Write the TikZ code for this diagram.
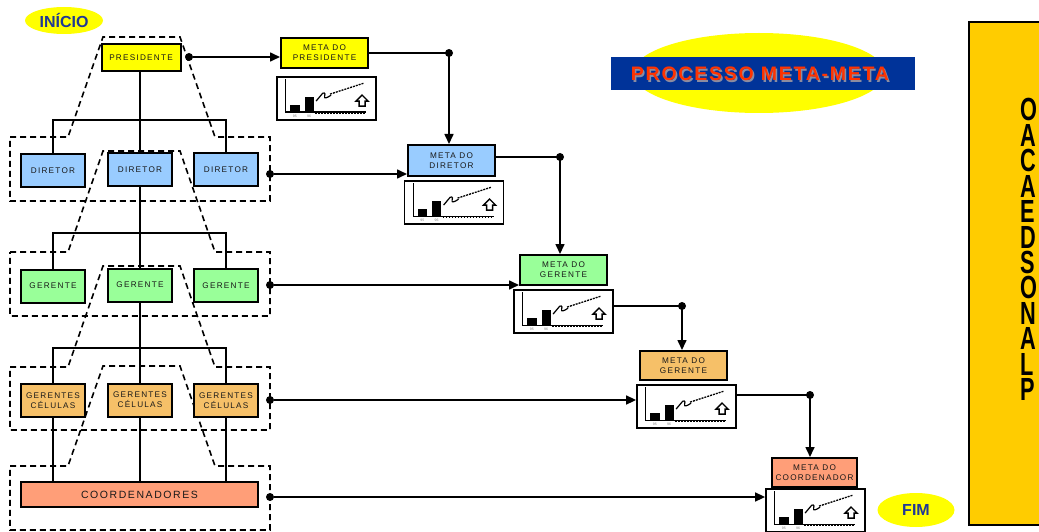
\documentclass[tikz,border=0pt]{standalone}
\usepackage{fontspec}
\setmainfont{Liberation Sans}
\newfontfamily\spacedfont[LetterSpace=15]{Liberation Sans}
\newfontfamily\titlefont[LetterSpace=9]{Liberation Sans}
\usetikzlibrary{shapes.geometric,arrows.meta}

\definecolor{boxyellow}{RGB}{255,255,0}
\definecolor{dirblue}{RGB}{153,204,255}
\definecolor{gergreen}{RGB}{153,255,153}
\definecolor{celorange}{RGB}{246,192,104}
\definecolor{coordsalmon}{RGB}{255,158,120}
\definecolor{sidegold}{RGB}{255,204,0}
\definecolor{titleblue}{RGB}{0,51,153}
\definecolor{titlered}{RGB}{255,51,0}
\definecolor{titleshade}{RGB}{140,140,160}
\definecolor{labelblue}{RGB}{31,56,150}
\definecolor{inktext}{RGB}{25,25,25}

\tikzset{
  orgbox/.style={draw=black, line width=2pt, inner sep=0pt, minimum width=64pt,
    minimum height=33pt, align=center, text=inktext,
    font=\spacedfont\fontsize{8.2}{10}\selectfont},
  metabox/.style={draw=black, line width=2pt, inner sep=0pt, minimum width=87pt,
    minimum height=30pt, align=center, text=inktext,
    font=\spacedfont\fontsize{8.2}{10}\selectfont},
  chartbox/.style={draw=black, line width=1.8pt, fill=white, inner sep=0pt,
    minimum width=99pt, minimum height=43pt},
  groupline/.style={line width=1.6pt, dash pattern=on 6pt off 4pt},
  orgline/.style={line width=1.6pt},
  feed/.style={line width=1.6pt, -{Triangle[length=10pt,width=9pt]}},
  joint/.style={circle, fill=black, inner sep=0pt, minimum size=8pt},
  oval/.style={ellipse, fill=boxyellow, inner sep=0pt},
}

% small goal chart drawn inside a chart frame
\newcommand\minichart[1]{%
  \begin{scope}[shift={(#1.north west)}]
    \draw[line width=1.2pt] (9.5,3) -- (9.5,36) -- (90,36);
    \draw[line width=2pt, dash pattern=on 1.5pt off 1.5pt] (39,37.2) -- (90,37.2);
    \fill (14,28.5) rectangle (23.5,36);
    \fill (28.5,21) rectangle (37.5,36);
    \node[font=\fontsize{3.5}{4}\selectfont, text=gray, inner sep=0pt] at (18.7,40) {95};
    \node[font=\fontsize{3.5}{4}\selectfont, text=gray, inner sep=0pt] at (33,40) {96};
    \draw[line width=1.2pt] (40,25) -- (45,19) .. controls (47,15.5) and (50,16.5) .. (48.5,20)
      .. controls (47.5,23) and (51,22) .. (55,19);
    \draw[line width=1.3pt, dash pattern=on 2pt off 1pt] (54,18) -- (88,7);
    \draw[line width=1.4pt, fill=white, line join=miter]
      (86,19) -- (92,25) -- (89,25) -- (89,30) -- (83,30) -- (83,25) -- (80,25) -- cycle;
  \end{scope}}

\begin{document}
\begin{tikzpicture}[x=1pt, y=-1pt]
  \clip (0,0) rectangle (1039,532);
  \fill[white] (0,0) rectangle (1039,532);

  % ---------- dashed groupings ----------
  \draw[groupline] (10,137) -- (68,137) -- (103,37) -- (180,37) -- (215,137) -- (270,137)
    -- (270,201) -- (10,201) -- cycle;
  \draw[groupline] (10,252) -- (68,252) -- (103,151) -- (180,151) -- (215,252) -- (270,252)
    -- (270,316) -- (10,316) -- cycle;
  \draw[groupline] (10,367) -- (68,367) -- (103,266) -- (180,266) -- (215,367) -- (270,367)
    -- (270,430) -- (10,430) -- cycle;
  \draw[groupline] (10,466) -- (68,466) -- (103,366) -- (180,366) -- (215,466) -- (270,466)
    -- (270,530) -- (10,530) -- cycle;

  % ---------- organisation ----------
  \node[orgbox, fill=boxyellow, minimum width=79pt, minimum height=27pt] (pres) at (141,57.5) {PRESIDENTE};

  \node[orgbox, fill=dirblue] (dirL) at (53,170.5) {DIRETOR};
  \node[orgbox, fill=dirblue] (dirM) at (140,169.5) {DIRETOR};
  \node[orgbox, fill=dirblue] (dirR) at (226,169.5) {DIRETOR};

  \node[orgbox, fill=gergreen] (gerL) at (53,286) {GERENTE};
  \node[orgbox, fill=gergreen] (gerM) at (140,285) {GERENTE};
  \node[orgbox, fill=gergreen] (gerR) at (226,285.5) {GERENTE};

  \node[orgbox, fill=celorange] (celL) at (53,400.5) {GERENTES\\CÉLULAS};
  \node[orgbox, fill=celorange] (celM) at (140,400) {GERENTES\\CÉLULAS};
  \node[orgbox, fill=celorange] (celR) at (226,400.5) {GERENTES\\CÉLULAS};

  \node[orgbox, fill=coordsalmon, minimum width=237pt, minimum height=25pt,
        font=\spacedfont\fontsize{10.5}{12}\selectfont] (coord) at (139.5,494.5) {COORDENADORES};

  \draw[orgline] (pres.south -| dirM) -- (dirM.north);
  \draw[orgline] (dirL.north) -- (dirL.north |- 0,120) -- (dirR.north |- 0,120) -- (dirR.north);
  \draw[orgline] (dirM.south) -- (gerM.north);
  \draw[orgline] (gerL.north) -- (gerL.north |- 0,233) -- (gerR.north |- 0,233) -- (gerR.north);
  \draw[orgline] (gerM.south) -- (celM.north);
  \draw[orgline] (celL.north) -- (celL.north |- 0,348) -- (celR.north |- 0,348) -- (celR.north);
  \draw[orgline] (celM.south) -- (celM.south |- coord.north);
  \draw[orgline] (celL.south) -- (celL.south |- coord.north);
  \draw[orgline] (celR.south) -- (celR.south |- coord.north);

  % ---------- goal cascade ----------
  \node[metabox, fill=boxyellow] (m1) at (324.5,53) {META DO\\PRESIDENTE};
  \node[chartbox] (c1) at (326.5,98.5) {};
  \minichart{c1}

  \node[metabox, fill=dirblue, minimum height=31pt] (m2) at (451.5,160.5) {META DO\\DIRETOR};
  \node[chartbox] (c2) at (454,202.5) {};
  \minichart{c2}

  \node[metabox, fill=gergreen] (m3) at (563.5,270) {META DO\\GERENTE};
  \node[chartbox] (c3) at (563.5,311.5) {};
  \minichart{c3}

  \node[metabox, fill=celorange, minimum height=29pt] (m4) at (683.5,365.5) {META DO\\GERENTE};
  \node[chartbox] (c4) at (686.5,406.5) {};
  \minichart{c4}

  \node[metabox, fill=coordsalmon, minimum width=85pt, minimum height=29pt] (m5) at (814.5,472.5) {META DO\\COORDENADOR};
  \node[chartbox] (c5) at (815.5,510.5) {};
  \minichart{c5}

  % row links into the goal column
  \node[joint] (j1) at (189,57) {};
  \draw[feed] (j1) -- (j1 -| m1.west);

  \node[joint] (j3) at (270,174) {};
  \draw[feed] (j3) -- (j3 -| m2.west);

  \node[joint] (j5) at (270,285) {};
  \draw[feed] (j5) -- (j5 -| m3.west);

  \node[joint] (j7) at (270,400) {};
  \draw[feed] (j7) -- (j7 -| c4.west);

  \node[joint] (j9) at (270,497) {};
  \draw[feed] (j9) -- (j9 -| c5.west);

  % cascade between goals
  \node[joint] (j2) at (449,53) {};
  \draw[feed] (m1.east) -- (j2.center) -- (j2.center |- m2.north);

  \node[joint] (j4) at (560,157) {};
  \draw[feed] (j4.center -| m2.east) -- (j4.center) -- (j4.center |- m3.north);

  \node[joint] (j6) at (682,306) {};
  \draw[feed] (j6.center -| c3.east) -- (j6.center) -- (j6.center |- m4.north);

  \node[joint] (j8) at (810,395) {};
  \draw[feed] (j8.center -| c4.east) -- (j8.center) -- (j8.center |- m5.north);

  % ---------- start / end ----------
  \node[oval, minimum width=78pt, minimum height=27pt, text=labelblue,
        font=\bfseries\fontsize{16}{18}\selectfont] (inicio) at (64,20.5) {INÍCIO};
  \node[oval, minimum width=77pt, minimum height=34pt, text=labelblue,
        font=\bfseries\fontsize{16}{18}\selectfont] (fim) at (916,510) {FIM};

  % ---------- title ----------
  \node[oval, minimum width=252pt, minimum height=80pt] (titleoval) at (759,73) {};
  \node[fill=titleblue, minimum width=304pt, minimum height=33pt, inner sep=0pt] (titlebar) at (763,73.5) {};
  \node[text=titleshade, font=\titlefont\bfseries\fontsize{19.5}{22}\selectfont, inner sep=0pt]
    (titleshadow) at (761.5,75.5) {PROCESSO META-META};
  \node[text=titlered, font=\titlefont\bfseries\fontsize{19.5}{22}\selectfont, inner sep=0pt]
    (titletext) at (760,74) {PROCESSO META-META};

  % ---------- side banner ----------
  \draw[fill=sidegold, line width=1.6pt] (969,22) rectangle (1050,525);
  \foreach \ch [count=\i] in {O,A,C,A,E,D,S,O,N,A,L,P}
    \node[anchor=base west, inner sep=0pt, xscale=0.68,
          font=\bfseries\fontsize{32}{32}\selectfont]
      (side\i) at (1020,{121+(\i-1)*25.4}) {\ch};
\end{tikzpicture}
\end{document}
